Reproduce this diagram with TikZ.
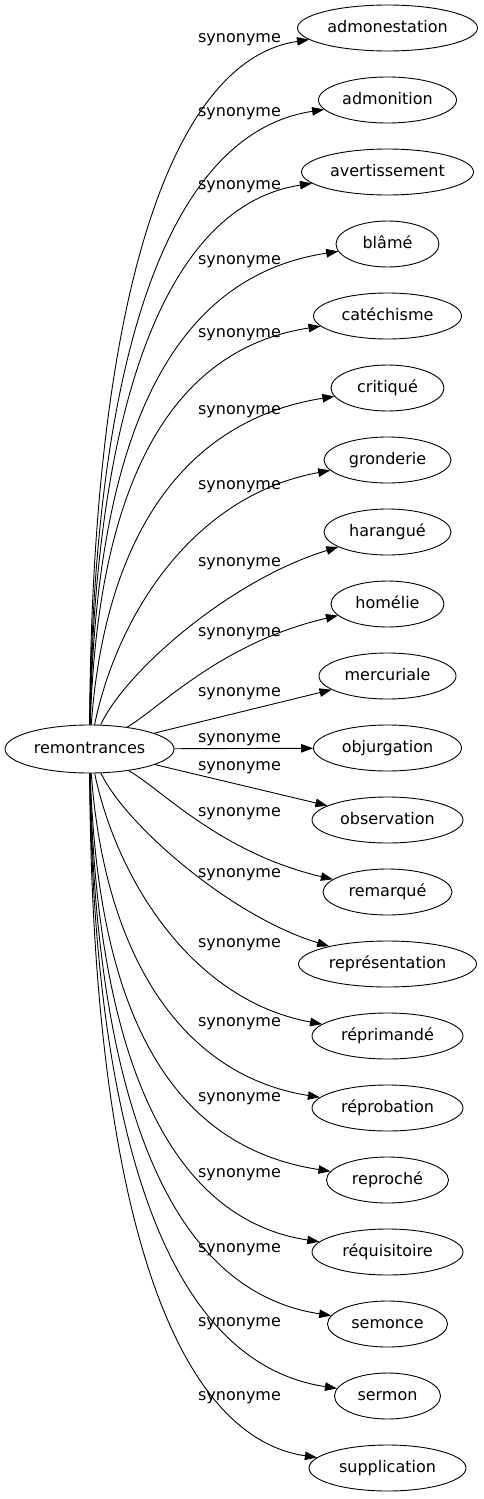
\documentclass[tikz,border=0pt]{standalone}
\usepackage{fontspec}
\setmainfont{DejaVu Sans}
\usetikzlibrary{arrows.meta,shapes.geometric}
\begin{document}
\begin{tikzpicture}[x=1pt,y=-1pt,
  every node/.style={font=\fontsize{16}{19}\selectfont},
  term/.style={draw, ellipse, line width=0.9pt, minimum height=46pt, inner sep=0pt, text height=12pt, text depth=3.2pt},
  lbl/.style={anchor=base, inner sep=0pt},
  edge/.style={line width=0.9pt, -{Triangle[length=12pt,width=8.5pt]}}]
\useasboundingbox (0,0) rectangle (483,1499);
% source
\node[term, minimum width=169pt, minimum height=48pt] (src) at (89.5,749) {remontrances};
% targets
\node[term, minimum width=180pt] (admonestation) at (387.5,28) {admonestation};
\node[term, minimum width=138pt] (admonition) at (387.5,100) {admonition};
\node[term, minimum width=172pt] (avertissement) at (387.5,172) {avertissement};
\node[term, minimum width=103pt] (blame) at (387.5,244) {blâmé};
\node[term, minimum width=148pt] (catechisme) at (387.5,316) {catéchisme};
\node[term, minimum width=113pt] (critique) at (387.5,388) {critiqué};
\node[term, minimum width=127pt] (gronderie) at (387.5,460) {gronderie};
\node[term, minimum width=127pt] (harangue) at (387.5,532) {harangué};
\node[term, minimum width=113pt] (homelie) at (387.5,604) {homélie};
\node[term, minimum width=137pt] (mercuriale) at (387.5,676) {mercuriale};
\node[term, minimum width=148pt] (objurgation) at (387.5,748) {objurgation};
\node[term, minimum width=151pt] (observation) at (387.5,820) {observation};
\node[term, minimum width=129pt] (remarque) at (387.5,892) {remarqué};
\node[term, minimum width=178pt] (representation) at (387.5,964) {représentation};
\node[term, minimum width=151pt] (reprimande) at (387.5,1036) {réprimandé};
\node[term, minimum width=151pt] (reprobation) at (387.5,1108) {réprobation};
\node[term, minimum width=122pt] (reproche) at (387.5,1180) {reproché};
\node[term, minimum width=151pt] (requisitoire) at (387.5,1252) {réquisitoire};
\node[term, minimum width=120pt] (semonce) at (387.5,1324) {semonce};
\node[term, minimum width=106pt] (sermon) at (387.5,1396) {sermon};
\node[term, minimum width=157pt] (supplication) at (387.5,1468) {supplication};
% labels
\node[lbl] (l1) at (239.5,42.5) {synonyme};
\node[lbl] (l2) at (239.5,116.5) {synonyme};
\node[lbl] (l3) at (239.5,189.5) {synonyme};
\node[lbl] (l4) at (239.5,264.5) {synonyme};
\node[lbl] (l5) at (239.5,337.5) {synonyme};
\node[lbl] (l6) at (239.5,414.5) {synonyme};
\node[lbl] (l7) at (239.5,489.5) {synonyme};
\node[lbl] (l8) at (239.5,566.5) {synonyme};
\node[lbl] (l9) at (239.5,636.5) {synonyme};
\node[lbl] (l10) at (239.5,696.5) {synonyme};
\node[lbl] (l11) at (239.5,742.5) {synonyme};
\node[lbl] (l12) at (239.5,770.5) {synonyme};
\node[lbl] (l13) at (239.5,816.5) {synonyme};
\node[lbl] (l14) at (239.5,877.5) {synonyme};
\node[lbl] (l15) at (239.5,947.5) {synonyme};
\node[lbl] (l16) at (239.5,1026.5) {synonyme};
\node[lbl] (l17) at (239.5,1101.5) {synonyme};
\node[lbl] (l18) at (239.5,1177.5) {synonyme};
\node[lbl] (l19) at (239.5,1252.5) {synonyme};
\node[lbl] (l20) at (239.5,1326.5) {synonyme};
\node[lbl] (l21) at (239.5,1400.5) {synonyme};
% edges (upper)
\draw[edge] (src) .. controls (92,293) and (172,60) .. (admonestation);
\draw[edge] (src) .. controls (94,337) and (175,132) .. (admonition);
\draw[edge] (src) .. controls (95,382) and (175,204) .. (avertissement);
\draw[edge] (src) .. controls (96,427) and (175,276) .. (blame);
\draw[edge] (src) .. controls (98,471) and (178,348) .. (catechisme);
\draw[edge] (src) .. controls (105,535) and (185,420) .. (critique);
\draw[edge] (src) .. controls (118,612) and (195,495) .. (gronderie);
\draw[edge] (src) .. controls (125,672) and (230,580) .. (harangue);
\draw[edge] (src) .. controls (160,708) and (220,643) .. (homelie);
\draw[edge] (src) -- (mercuriale);
\draw[edge] (src) -- (objurgation);
% edges (lower)
\draw[edge] (src) -- (observation);
\draw[edge] (src) .. controls (160,788) and (220,853) .. (remarque);
\draw[edge] (src) .. controls (125,824) and (230,916) .. (representation);
\draw[edge] (src) .. controls (118,884) and (195,1001) .. (reprimande);
\draw[edge] (src) .. controls (105,961) and (185,1076) .. (reprobation);
\draw[edge] (src) .. controls (98,1025) and (178,1148) .. (reproche);
\draw[edge] (src) .. controls (96,1069) and (175,1220) .. (requisitoire);
\draw[edge] (src) .. controls (95,1114) and (175,1292) .. (semonce);
\draw[edge] (src) .. controls (94,1159) and (175,1364) .. (sermon);
\draw[edge] (src) .. controls (92,1203) and (172,1436) .. (supplication);
\end{tikzpicture}
\end{document}
